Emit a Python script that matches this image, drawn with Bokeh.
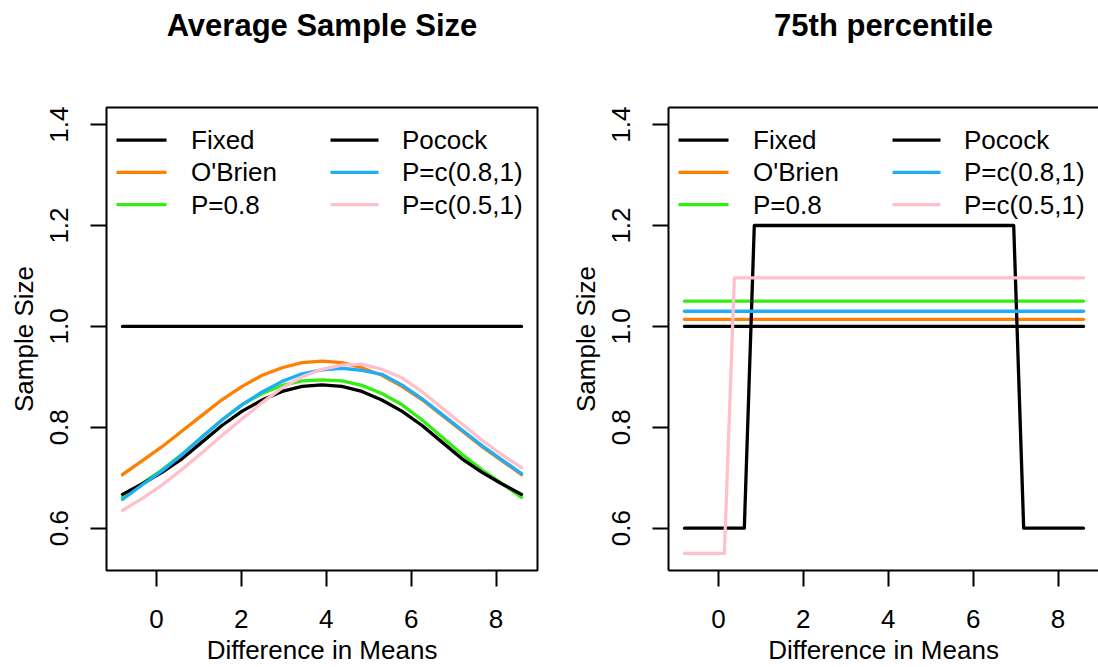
from bokeh.plotting import figure
from bokeh.layouts import row
from bokeh.models import (Range1d, FixedTicker, CustomJSTickFormatter, Label,
                          BoxAnnotation, LinearAxis)
from bokeh.embed import file_html
from bokeh.resources import INLINE

# ---------------- data ----------------
series_names = ["Fixed", "O'Brien", "P=0.8", "Pocock", "P=c(0.8,1)", "P=c(0.5,1)"]
series_colors = ["#000000", "#FF7F00", "#33EE11", "#000000", "#1FAEF6", "#FFC0CB"]
panel_titles = ["Average Sample Size", "75th percentile"]

x_ticks = [0, 2, 4, 6, 8]
y_ticks = [0.6, 0.8, 1.0, 1.2, 1.4]

# Average sample size (left panel)
asn_x = [-0.80, -0.33, 0.14, 0.61, 1.08, 1.55, 2.02, 2.49, 2.96, 3.43, 3.90,
         4.37, 4.84, 5.31, 5.78, 6.25, 6.72, 7.19, 7.66, 8.13, 8.60]
asn_fixed_x = [-0.80, 8.60]
asn_fixed = [1.0, 1.0]
asn_obrien = [0.706, 0.734, 0.762, 0.793, 0.824, 0.855, 0.881, 0.903, 0.918, 0.928, 0.931,
              0.928, 0.918, 0.903, 0.881, 0.855, 0.824, 0.793, 0.762, 0.734, 0.706]
asn_p08 = [0.661, 0.689, 0.716, 0.747, 0.781, 0.815, 0.845, 0.867, 0.883, 0.892, 0.894,
           0.892, 0.883, 0.867, 0.845, 0.815, 0.781, 0.747, 0.716, 0.689, 0.661]
asn_pocock = [0.667, 0.688, 0.711, 0.738, 0.771, 0.804, 0.832, 0.854, 0.871, 0.881, 0.884,
              0.881, 0.871, 0.854, 0.832, 0.804, 0.771, 0.738, 0.711, 0.688, 0.667]
asn_p081 = [0.657, 0.686, 0.714, 0.746, 0.781, 0.815, 0.845, 0.870, 0.891, 0.906, 0.914,
            0.917, 0.913, 0.905, 0.884, 0.857, 0.826, 0.795, 0.764, 0.736, 0.708]
asn_p051 = [0.635, 0.659, 0.686, 0.717, 0.750, 0.784, 0.817, 0.849, 0.878, 0.900, 0.915,
            0.923, 0.925, 0.915, 0.898, 0.871, 0.839, 0.807, 0.775, 0.746, 0.720]

# 75th percentile (right panel)
pct_const_x = [-0.80, 8.60]
pct_fixed = [1.0, 1.0]
pct_obrien = [1.014, 1.014]
pct_p08 = [1.050, 1.050]
pct_p081 = [1.030, 1.030]
pct_pocock_x = [-0.80, 0.61, 0.845, 6.955, 7.19, 8.60]
pct_pocock = [0.6, 0.6, 1.2, 1.2, 0.6, 0.6]
pct_p051_x = [-0.80, 0.14, 0.375, 8.60]
pct_p051 = [0.55, 0.55, 1.096, 1.096]

# ---------------- layout constants ----------------
FONT = "Liberation Sans"
X0, X1 = -1.176, 8.976
Y0, Y1 = 0.516, 1.434
FW, FH = 431, 463
SX = FW / (X1 - X0)
SY = FH / (Y1 - Y0)
RIGHT_FW = 430
X1R = X0 + RIGHT_FW / SX
TITLE_GAP = 65


def dx(px):
    return X0 + px / SX


def dy(py):
    return Y1 - py / SY


def style_axes(p, draw_lines):
    for ax in (p.xaxis[0], p.yaxis[0]):
        ax.major_tick_out = 16
        ax.major_tick_in = 0
        ax.major_tick_line_width = 2
        ax.major_tick_line_color = "black"
        ax.minor_tick_line_color = None
        ax.major_label_text_font = FONT
        ax.major_label_text_font_size = "26px"
        ax.major_label_text_color = "black"
        ax.axis_label_text_font = FONT
        ax.axis_label_text_font_size = "26px"
        ax.axis_label_text_font_style = "normal"
        ax.axis_label_text_color = "black"
        if draw_lines:
            ax.axis_line_color = "black"
            ax.axis_line_width = 2
        else:
            ax.axis_line_color = None
    xa, ya = p.xaxis[0], p.yaxis[0]
    xa.ticker = FixedTicker(ticks=x_ticks)
    xa.formatter = CustomJSTickFormatter(code="return tick.toFixed(0);")
    xa.axis_label = "Difference in Means"
    xa.major_label_standoff = 23
    xa.axis_label_standoff = 4
    ya.ticker = FixedTicker(ticks=y_ticks)
    ya.formatter = CustomJSTickFormatter(code="return tick.toFixed(1);")
    ya.axis_label = "Sample Size"
    ya.major_label_orientation = "parallel"
    ya.major_label_standoff = 22
    ya.axis_label_standoff = 9


def add_top(p, title, draw_line):
    # tick-less top axis: carries the panel title and, on the right
    # panel, draws the top edge of the box
    top_axis = LinearAxis(ticker=FixedTicker(ticks=[]),
                          major_tick_line_color=None, minor_tick_line_color=None,
                          major_tick_out=0, major_tick_in=0,
                          major_label_standoff=0,
                          axis_line_color="black" if draw_line else None,
                          axis_line_width=2,
                          axis_label=title,
                          axis_label_standoff=TITLE_GAP,
                          axis_label_text_font=FONT,
                          axis_label_text_font_size="31px",
                          axis_label_text_font_style="bold",
                          axis_label_text_color="black")
    p.add_layout(top_axis, "above")


def add_legend(p):
    rows = [32.7, 64.9, 97.1]
    cols = [(10, 60, 84.5), (224, 272, 295.5)]
    for i, (name, col) in enumerate(zip(series_names, series_colors)):
        c = cols[i // 3]
        r = rows[i % 3]
        p.add_layout(BoxAnnotation(left=dx(c[0]), right=dx(c[1]),
                                   top=dy(r - 1.6), bottom=dy(r + 1.6),
                                   fill_color=col, fill_alpha=1.0,
                                   line_color=None))
        p.add_layout(Label(x=dx(c[2]), y=dy(r), text=name,
                           text_font=FONT, text_font_size="26px",
                           text_color="black", text_align="left",
                           text_baseline="middle"))


def make_fig(x_end, border_left, border_right, outline):
    p = figure(width=549, height=667, x_range=Range1d(X0, x_end),
               y_range=Range1d(Y0, Y1), output_backend="svg",
               toolbar_location=None, min_border_left=border_left,
               min_border_right=border_right, min_border_top=107,
               min_border_bottom=97)
    p.xgrid.visible = False
    p.ygrid.visible = False
    p.background_fill_color = "white"
    p.border_fill_color = "white"
    if outline:
        p.outline_line_color = "black"
        p.outline_line_width = 2
    else:
        p.outline_line_color = None
    return p


LW = 3.3
kw = dict(line_width=LW, line_cap="round", line_join="round")

# ---------------- left panel ----------------
p1 = make_fig(X1, 106, 12, True)
style_axes(p1, False)
add_top(p1, panel_titles[0], False)
p1.line(asn_fixed_x, asn_fixed, line_color=series_colors[0], **kw)
p1.line(asn_x, asn_obrien, line_color=series_colors[1], **kw)
p1.line(asn_x, asn_p08, line_color=series_colors[2], **kw)
p1.line(asn_x, asn_pocock, line_color=series_colors[3], **kw)
p1.line(asn_x, asn_p081, line_color=series_colors[4], **kw)
p1.line(asn_x, asn_p051, line_color=series_colors[5], **kw)
add_legend(p1)

# ---------------- right panel ----------------
p2 = make_fig(X1R, 119, 0, False)
style_axes(p2, True)
add_top(p2, panel_titles[1], True)
p2.line(pct_const_x, pct_fixed, line_color=series_colors[0], **kw)
p2.line(pct_const_x, pct_obrien, line_color=series_colors[1], **kw)
p2.line(pct_const_x, pct_p08, line_color=series_colors[2], **kw)
p2.line(pct_pocock_x, pct_pocock, line_color=series_colors[3], **kw)
p2.line(pct_const_x, pct_p081, line_color=series_colors[4], **kw)
p2.line(pct_p051_x, pct_p051, line_color=series_colors[5], **kw)
add_legend(p2)

layout = row(p1, p2)
open("out.html", "w").write(file_html(layout, INLINE))
